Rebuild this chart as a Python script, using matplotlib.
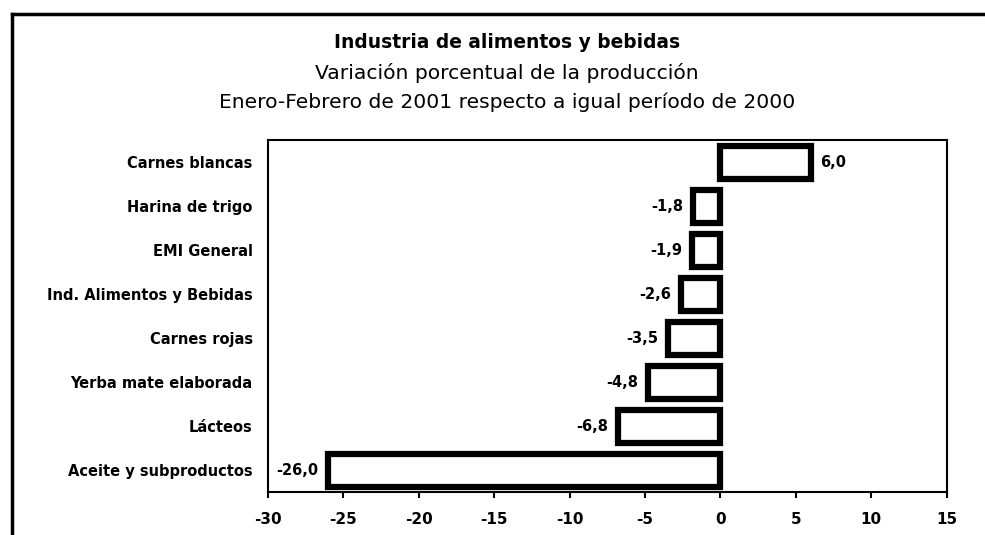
import matplotlib
matplotlib.use('Agg')
import matplotlib.pyplot as plt
from matplotlib.lines import Line2D

# Data
categories = ['Carnes blancas', 'Harina de trigo', 'EMI General',
              'Ind. Alimentos y Bebidas', 'Carnes rojas',
              'Yerba mate elaborada', 'Lácteos', 'Aceite y subproductos']
values = [6.0, -1.8, -1.9, -2.6, -3.5, -4.8, -6.8, -26.0]
xticks = [-30, -25, -20, -15, -10, -5, 0, 5, 10, 15]

title_lines = ['Industria de alimentos y bebidas',
               'Variación porcentual de la producción',
               'Enero-Febrero de 2001 respecto a igual período de 2000']

plt.rcParams['font.family'] = 'DejaVu Sans'

fig = plt.figure(figsize=(9.85, 5.35), dpi=100)
ax = fig.add_axes([0.272, 0.080, 0.689, 0.658])

ypos = list(range(len(categories)))
bars = ax.barh(ypos, values, height=0.75, color='white',
               edgecolor='black', linewidth=4.5)

labels = [f'{v:.1f}'.replace('.', ',') for v in values]
ax.bar_label(bars, labels=labels, padding=7, fontsize=10.5,
             fontweight='bold')

ax.set_yticks(ypos)
ax.set_yticklabels(categories, fontsize=10.5, fontweight='bold')
ax.set_ylim(len(categories) - 0.5, -0.5)
ax.tick_params(axis='y', length=0, pad=11)

ax.set_xlim(-30, 15)
ax.set_xticks(xticks)
ax.set_xticklabels([str(t) for t in xticks], fontsize=11, fontweight='bold')
ax.tick_params(axis='x', direction='out', length=4, width=1.5, pad=10)

for s in ax.spines.values():
    s.set_linewidth(1.5)

# Titles
fig.text(0.515, 0.92, title_lines[0], ha='center', va='center',
         fontsize=13.4, fontweight='bold')
fig.text(0.515, 0.864, title_lines[1], ha='center', va='center',
         fontsize=14.6)
fig.text(0.515, 0.809, title_lines[2], ha='center', va='center',
         fontsize=14.6)

# Outer frame (left and top edges)
ytop = 1 - 14 / 535
xl = 12 / 985
fig.add_artist(Line2D([xl, xl], [0, ytop], transform=fig.transFigure,
                      color='black', linewidth=2.5))
fig.add_artist(Line2D([xl, 1], [ytop, ytop], transform=fig.transFigure,
                      color='black', linewidth=2.5))

fig.savefig('out.png', dpi=100)
